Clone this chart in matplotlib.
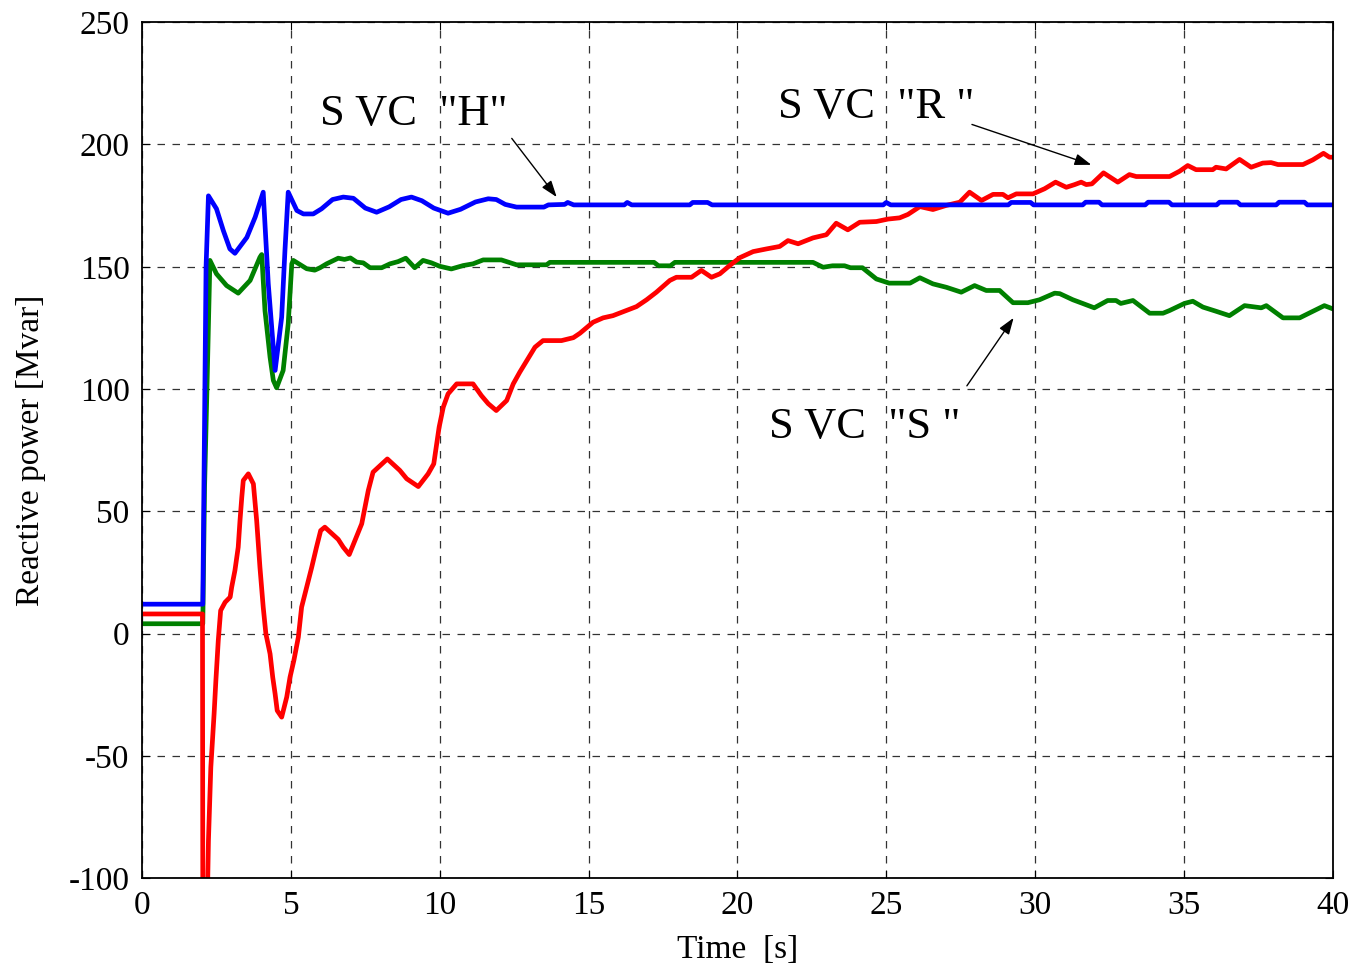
import matplotlib
matplotlib.use("Agg")
import matplotlib.pyplot as plt

plt.rcParams['font.family'] = ['Liberation Serif', 'DejaVu Serif']
plt.rcParams['axes.unicode_minus'] = False

# SVC "H" (blue)
t_h = [0, 2.04, 2.15, 2.23, 2.5, 2.73, 2.95, 3.12, 3.52, 3.8, 4.07, 4.24, 4.47, 4.69, 4.8, 4.91,
       5.2, 5.42, 5.75, 6.03, 6.4, 6.76, 7.1, 7.5, 7.88, 8.3, 8.7, 9.05, 9.4, 9.8, 10.28, 10.7,
       11.2, 11.63, 11.9, 12.2, 12.58, 13.5, 13.65, 14.2, 14.3, 14.5, 16.2, 16.3, 16.45, 18.4,
       18.5, 19.0, 19.15, 24.9, 25.0, 25.15, 29.1, 29.2, 29.85, 29.95, 31.6, 31.7, 32.15, 32.25,
       33.7, 33.8, 34.5, 34.6, 36.1, 36.2, 36.8, 36.9, 38.1, 38.2, 39.05, 39.15, 40]
q_h = [12, 12, 150, 179, 173.7, 164.8, 157.3, 155.5, 162, 170.3, 180.5, 143, 107.6, 129.4, 156.6, 180.5,
       173, 171.6, 171.6, 173.7, 177.5, 178.5, 178, 174, 172.3, 174.5, 177.5, 178.5, 177, 174, 171.9, 173.5,
       176.5, 177.8, 177.5, 175.5, 174.4, 174.4, 175.3, 175.5, 176.3, 175.3, 175.3, 176.3, 175.3, 175.3,
       176.3, 176.3, 175.3, 175.3, 176.3, 175.3, 175.3, 176.3, 176.3, 175.3, 175.3, 176.4, 176.4, 175.3,
       175.3, 176.4, 176.4, 175.3, 175.3, 176.4, 176.4, 175.3, 175.3, 176.4, 176.4, 175.3, 175.3]

# SVC "S" (green)
t_s = [0, 2.04, 2.1, 2.18, 2.28, 2.5, 2.84, 3.23, 3.63, 3.96, 4.02, 4.13, 4.3, 4.41, 4.52, 4.74, 4.91,
       5.03, 5.08, 5.53, 5.8, 5.98, 6.2, 6.59, 6.8, 7.0, 7.21, 7.43, 7.66, 8.05, 8.33, 8.6, 8.86, 9.16,
       9.44, 9.72, 10.0, 10.39, 10.79, 11.12, 11.46, 12.07, 12.58, 13.59, 13.7, 17.2, 17.35, 17.75, 17.9,
       22.54, 22.88, 23.2, 23.6, 23.8, 24.2, 24.67, 25.1, 25.8, 26.13, 26.57, 27.02, 27.52, 27.97, 28.36,
       28.81, 29.26, 29.76, 30.15, 30.66, 30.83, 31.27, 31.6, 31.99, 32.44, 32.72, 32.88, 33.29, 33.85,
       34.3, 34.52, 35.02, 35.3, 35.64, 36.08, 36.53, 37.04, 37.6, 37.77, 38.33, 38.89, 39.27, 39.72, 40]
q_s = [4, 4, 60, 100, 152.6, 147.1, 142.3, 139.2, 144.4, 153.9, 155, 132, 113, 103.5, 100.5, 107.6, 126.7,
       151.2, 152.6, 149.2, 148.6, 149.6, 151.2, 153.5, 153, 153.6, 151.9, 151.6, 149.6, 149.6, 151.2, 152.1, 153.5, 149.6,
       152.6, 151.6, 150.2, 149.1, 150.5, 151.2, 152.8, 152.8, 150.8, 150.8, 151.8, 151.8, 150.4, 150.4, 151.8,
       151.8, 149.8, 150.4, 150.4, 149.6, 149.6, 145, 143.3, 143.3, 145.5, 143, 141.6, 139.6, 142.3, 140.3,
       140.3, 135.3, 135.3, 136.5, 139.2, 139, 136.5, 135, 133.2, 136.2, 136.2, 135, 136.2, 131,
       131, 132.1, 135, 135.9, 133.5, 131.8, 130, 134.1, 133.2, 134.1, 129.1, 129.1, 131.4, 134.1, 132.8]

# SVC "R" (red)
t_r = [0, 2.03, 2.04, 2.2, 2.23, 2.31, 2.42, 2.48, 2.56, 2.64, 2.79, 2.96, 3.01, 3.12, 3.23, 3.29, 3.35,
       3.4, 3.57, 3.74, 3.85, 3.96, 4.07, 4.16, 4.3, 4.39, 4.47, 4.54, 4.69, 4.86, 4.97, 5.1, 5.25, 5.36,
       5.53, 5.7, 5.86, 6.0, 6.14, 6.59, 6.76, 6.96, 7.15, 7.38, 7.49, 7.6, 7.76, 8.24, 8.66, 8.89, 9.28,
       9.61, 9.8, 9.9, 9.98, 10.12, 10.28, 10.57, 11.12, 11.4, 11.63, 11.9, 12.25, 12.47, 12.69, 13.03,
       13.2, 13.47, 14.09, 14.49, 14.71, 15.15, 15.49, 15.82, 16.27, 16.61, 16.95, 17.28, 17.73, 17.95,
       18.46, 18.79, 19.13, 19.41, 19.74, 20.08, 20.53, 20.98, 21.42, 21.7, 22.04, 22.54, 22.99, 23.32,
       23.71, 24.11, 24.67, 25.06, 25.45, 25.73, 26.13, 26.57, 27.02, 27.47, 27.8, 28.2, 28.59, 28.92,
       29.09, 29.37, 29.93, 30.32, 30.69, 31.05, 31.33, 31.55, 31.72, 31.91, 32.3, 32.78, 33.17, 33.4,
       34.52, 34.86, 35.13, 35.41, 35.97, 36.08, 36.42, 36.87, 37.26, 37.65, 37.93, 38.16, 39.0, 39.33,
       39.69, 39.89, 40]
q_r = [8, 8, -105, -105, -84.7, -54.7, -32.8, -19.2, -2.9, 9.4, 12.8, 14.9, 18.9, 25.8, 35.3, 46.2, 55.7,
       62.6, 65.3, 61.2, 46.2, 27.1, 10.8, -0.1, -8.3, -17.9, -24.7, -31.5, -34.2, -26, -17.9, -11, -1.5, 10.8,
       18.9, 27.1, 35.3, 42.1, 43.5, 38.5, 35.3, 32.3, 38, 44.9, 51.7, 58.5, 66, 71.4, 66.7, 63.3, 60.1,
       65.3, 69.4, 77.6, 84.4, 92.6, 98, 102.1, 102.1, 97.3, 94, 91.2, 95.3, 102.1, 106.9, 113.7,
       117.1, 119.8, 119.8, 121, 122.8, 127.3, 129.1, 130, 132.1, 133.7, 136.5, 139.6, 144.4, 145.7,
       145.7, 148.5, 145.7, 147.1, 150.5, 153.7, 156.2, 157.3, 158.3, 160.7, 159.4, 161.8, 163.1, 167.8,
       165.1, 168.2, 168.5, 169.5, 170, 171.4, 174.6, 173.4, 175.1, 176.4, 180.5, 177.1, 179.6, 179.6,
       178.2, 179.8, 179.8, 181.9, 184.6, 182.5, 183.6, 184.6, 183.6, 183.9, 188.4, 184.6, 187.7, 186.9,
       186.9, 189.1, 191.4, 189.7, 189.7, 190.7, 190, 193.9, 190.7, 192.4, 192.6, 191.8, 191.8, 193.7,
       196.4, 194.8, 194.8]

x_ticks = [0, 5, 10, 15, 20, 25, 30, 35, 40]
y_ticks = [-100, -50, 0, 50, 100, 150, 200, 250]

fig = plt.figure(figsize=(13.53, 9.67), dpi=100)
ax = fig.add_axes([0.105, 0.092, 0.88, 0.885])

ax.plot(t_s, q_s, color=(0, 0.5, 0), lw=3.4)
ax.plot(t_r, q_r, color=(1, 0, 0), lw=3.4)
ax.plot(t_h, q_h, color=(0, 0, 1), lw=3.4)

ax.set_xlim(0, 40)
ax.set_ylim(-100, 250)
ax.set_xticks(x_ticks)
ax.set_yticks(y_ticks)
ax.tick_params(direction='in', top=True, right=True, length=6, labelsize=24, pad=9)
ax.grid(True, color='black', linestyle=(0, (6, 6)), linewidth=0.9, alpha=0.8)
for sp in ax.spines.values():
    sp.set_linewidth(1.3)

ax.set_xlabel('Time  [s]', fontsize=24, labelpad=10)
ax.set_ylabel('Reactive power [Mvar]', fontsize=24, labelpad=16)

arrow = dict(arrowstyle='-|>,head_length=1.0,head_width=0.35', color='black', lw=1.0,
             shrinkA=0, shrinkB=0)
ax.text(5.98, 212.3, 'S VC  "H"', fontsize=32, va='center', ha='left')
ax.annotate('', xy=(13.93, 178.5), xytext=(12.42, 202.5), arrowprops=arrow)
ax.text(21.36, 215.5, 'S VC  "R "', fontsize=32, va='center', ha='left')
ax.annotate('', xy=(31.89, 191.7), xytext=(27.88, 208.2), arrowprops=arrow)
ax.text(21.05, 84.3, 'S VC  "S "', fontsize=32, va='center', ha='left')
ax.annotate('', xy=(29.28, 129.1), xytext=(27.71, 101.3), arrowprops=arrow)

fig.savefig('out.png', dpi=100)
